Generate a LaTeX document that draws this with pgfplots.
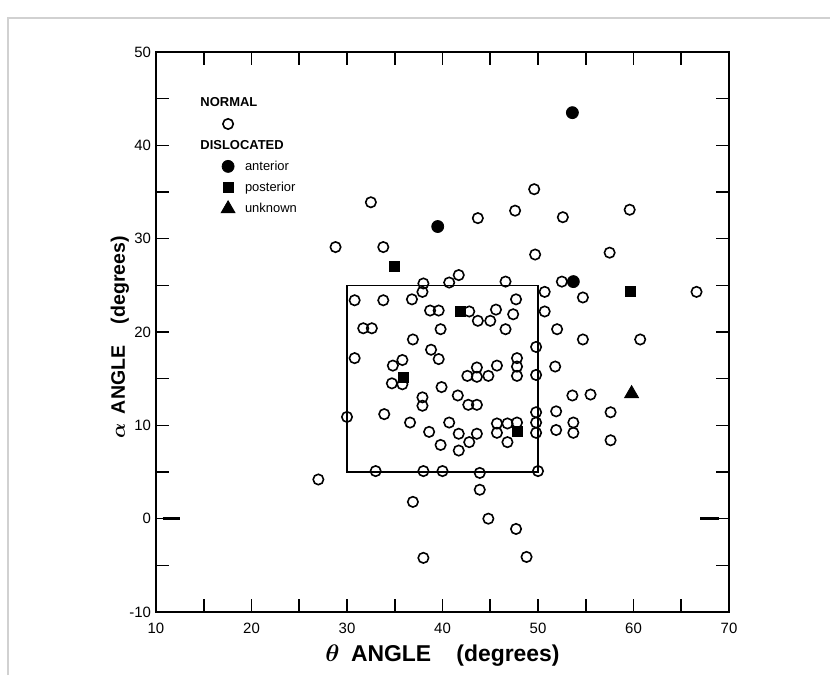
\documentclass[border=0pt]{standalone}
\usepackage{fontspec}
\setmainfont{Liberation Sans}
\usepackage{bm}
\usepackage{pgfplots}
\pgfplotsset{compat=1.18}
\begin{document}
\begin{tikzpicture}
\begin{axis}[name=ax, scale only axis, width=286.5bp, height=280bp,
  xmin=10, xmax=70, ymin=-10, ymax=50,
  xtick={10,20,...,70}, ytick={-10,0,...,50},
  minor xtick={15,25,...,65}, minor ytick={-5,5,...,45},
  tick align=inside, major tick length=6.5bp, minor tick length=6.5bp,
  axis line style={line width=1.4bp},
  every tick/.style={black, line width=0.8bp},
  tick label style={font=\fontsize{7.5}{9}\selectfont},
  xticklabel style={yshift=-2bp},
  yticklabel style={xshift=1bp},
  /pgf/number format/assume math mode=true,
  xlabel={$\bm{\theta}$\hspace{0.5em}ANGLE\hspace{1.1em}(degrees)},
  ylabel={$\bm{\alpha}$\hspace{0.5em}ANGLE\hspace{1.1em}(degrees)},
  xlabel style={font=\fontsize{11.5}{13}\selectfont\bfseries, at={(axis description cs:0.5,-0.077)}, anchor=center},
  ylabel style={font=\fontsize{9.8}{11}\selectfont\bfseries, at={(axis description cs:-0.063,0.49)}, anchor=center, rotate=0},
  legend style={draw=none, fill=none, at={(0.085,0.935)}, anchor=north west,
    font=\fontsize{6.5}{7.5}\selectfont, column sep=4bp,
    nodes={inner sep=1bp, text height=6bp, text depth=2bp}, row sep=0.6bp},
  legend cell align=left,
  clip=false,
]
\addlegendimage{legend image code/.code={\node[overlay, anchor=west, inner sep=0pt, font=\fontsize{6.5}{7.5}\selectfont\bfseries] at (-5.5bp,0) {NORMAL};}}
\addlegendentry{}
\addplot[only marks, mark=o, mark size=2.6bp, mark options={line width=0.8bp, black}] coordinates {
(32.5,33.9) (28.8,29.1) (33.8,29.1) (43.7,32.2) (47.6,33.0) (49.6,35.3) (52.6,32.3) (59.6,33.1) (49.7,28.3) (57.5,28.5)
(41.7,26.1) (40.7,25.3) (38.0,25.2) (46.6,25.4) (52.5,25.4) (50.7,24.3) (54.7,23.7) (66.6,24.3) (37.9,24.3)
(30.8,23.4) (33.8,23.4) (36.8,23.5) (47.7,23.5)
(38.7,22.3) (39.6,22.3) (42.8,22.2) (45.6,22.4) (47.4,21.9) (50.7,22.2) (43.7,21.2) (45.0,21.2)
(31.7,20.4) (32.6,20.4) (39.8,20.3) (46.6,20.3) (52.0,20.3)
(36.9,19.2) (54.7,19.2) (60.7,19.2)
(38.8,18.1) (49.8,18.4)
(30.8,17.2) (35.8,17.0) (39.6,17.1) (47.8,17.2)
(34.8,16.4) (43.6,16.2) (45.7,16.4) (47.8,16.3) (51.8,16.3)
(42.6,15.3) (43.6,15.2) (44.8,15.3) (47.8,15.3) (49.8,15.4)
(34.7,14.5) (35.8,14.4) (39.9,14.1)
(37.9,13.0) (41.6,13.2) (53.6,13.2) (55.5,13.3)
(37.9,12.1) (42.7,12.2) (43.6,12.2)
(33.9,11.2) (30.0,10.9) (49.8,11.4) (51.9,11.5) (57.6,11.4)
(36.6,10.3) (40.7,10.3) (45.7,10.2) (46.8,10.2) (47.8,10.3) (49.8,10.3) (53.7,10.3)
(38.6,9.3) (41.7,9.1) (43.6,9.1) (45.7,9.2) (49.8,9.2) (51.9,9.5) (53.7,9.2)
(42.8,8.2) (46.8,8.2) (57.6,8.4)
(39.8,7.9) (41.7,7.3)
(33.0,5.1) (38.0,5.1) (40.0,5.1) (43.9,4.9) (50.0,5.1)
(27.0,4.2) (43.9,3.1) (36.9,1.8) (44.8,0.0) (47.7,-1.1) (38.0,-4.2) (48.8,-4.1)
};
\addlegendentry{}
\addlegendimage{legend image code/.code={\node[overlay, anchor=west, inner sep=0pt, font=\fontsize{6.5}{7.5}\selectfont\bfseries] at (-5.5bp,0) {DISLOCATED};}}
\addlegendentry{}
\addplot[only marks, mark=*, mark size=3bp, black] coordinates {
(53.6,43.5) (39.5,31.3) (53.7,25.4)
};
\addlegendentry{anterior}
\addplot[only marks, mark=square*, mark size=2.5bp, black] coordinates {
(35.0,27.0) (41.9,22.2) (35.9,15.1) (47.8,9.4) (59.7,24.4)
};
\addlegendentry{posterior}
\addplot[only marks, mark=triangle*, mark size=4bp, black] coordinates {
(59.8,13.4)
};
\addlegendentry{unknown}
\draw[line width=0.8bp] (axis cs:30,5) rectangle (axis cs:50,25);
\draw[line width=1.2bp] (axis cs:10.7,0) -- (axis cs:12.5,0);
\draw[line width=1.2bp] (axis cs:67.0,0) -- (axis cs:68.9,0);
\end{axis}
\draw[black!18, line width=0.8bp] ([shift={(-74bp,-31.5bp)}]ax.south west) -- ([shift={(-74bp,17bp)}]ax.north west) -- ([shift={(50.5bp,17bp)}]ax.north east);
\pgfresetboundingbox
\path ([shift={(-78bp,-31.5bp)}]ax.south west) rectangle ([shift={(50.5bp,26bp)}]ax.north east);
\end{tikzpicture}
\end{document}
